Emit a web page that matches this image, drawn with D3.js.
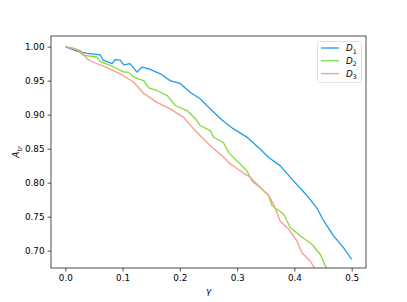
<!DOCTYPE html>
<html>
<head>
<meta charset="utf-8">
<script src="https://cdn.jsdelivr.net/npm/d3@7"></script>
<style>
  body { margin: 0; background: #fff; }
  svg { font-family: "DejaVu Sans", sans-serif; }
</style>
</head>
<body>
<div id="chart"></div>
<script>
const seriesNames = ["1", "2", "3"];
const seriesColors = ["#1f9be8", "#80dc3c", "#fb9a8c"];

const gammaD1 = [0, 0.020, 0.038, 0.061, 0.066, 0.0815, 0.087, 0.096, 0.102, 0.113, 0.125, 0.134, 0.148, 0.166, 0.183, 0.201, 0.218, 0.236, 0.253, 0.2735, 0.2937, 0.317, 0.340, 0.355, 0.375, 0.398, 0.422, 0.439, 0.451, 0.468, 0.486, 0.500];
const valD1 = [1.0, 0.9935, 0.990, 0.988, 0.980, 0.975, 0.981, 0.980, 0.973, 0.975, 0.9625, 0.970, 0.9665, 0.960, 0.950, 0.9455, 0.933, 0.923, 0.9085, 0.892, 0.879, 0.867, 0.8495, 0.837, 0.825, 0.803, 0.781, 0.763, 0.744, 0.722, 0.704, 0.687];

const gammaD2 = [0, 0.0175, 0.032, 0.055, 0.061, 0.0785, 0.090, 0.102, 0.110, 0.119, 0.137, 0.1455, 0.160, 0.178, 0.192, 0.2125, 0.227, 0.2356, 0.253, 0.259, 0.276, 0.285, 0.2997, 0.317, 0.326, 0.340, 0.355, 0.361, 0.381, 0.3927, 0.410, 0.4305, 0.445, 0.4567, 0.465];
const valD2 = [1.0, 0.997, 0.987, 0.9847, 0.978, 0.9724, 0.9675, 0.9625, 0.9625, 0.955, 0.950, 0.9395, 0.9355, 0.928, 0.9134, 0.906, 0.894, 0.884, 0.8765, 0.8667, 0.859, 0.8445, 0.832, 0.8176, 0.8023, 0.793, 0.781, 0.766, 0.754, 0.734, 0.722, 0.7094, 0.6947, 0.6726, 0.655];

const gammaD3 = [0, 0.026, 0.038, 0.049, 0.073, 0.096, 0.119, 0.137, 0.160, 0.183, 0.2065, 0.224, 0.2356, 0.253, 0.2735, 0.288, 0.3054, 0.323, 0.3374, 0.355, 0.3635, 0.3695, 0.375, 0.390, 0.4044, 0.413, 0.4276, 0.4363, 0.445];
const valD3 = [1.0, 0.9945, 0.982, 0.977, 0.969, 0.960, 0.948, 0.931, 0.918, 0.9085, 0.896, 0.879, 0.869, 0.8544, 0.8397, 0.8274, 0.8175, 0.8077, 0.7954, 0.781, 0.7684, 0.756, 0.7436, 0.7316, 0.7143, 0.697, 0.6848, 0.6726, 0.655];

const xTicks = [0.0, 0.1, 0.2, 0.3, 0.4, 0.5];
const yTicks = [0.70, 0.75, 0.80, 0.85, 0.90, 0.95, 1.00];

const width = 407, height = 302;
const margin = {top: 36, right: 41, bottom: 34, left: 51};

const svg = d3.select("#chart").append("svg")
    .attr("width", width)
    .attr("height", height);

const x = d3.scaleLinear().domain([-0.025, 0.525]).range([margin.left, width - margin.right]);
const y = d3.scaleLinear().domain([0.6745, 1.0156]).range([height - margin.bottom, margin.top]);

const series = [
    {name: seriesNames[0], g: gammaD1, v: valD1, color: seriesColors[0]},
    {name: seriesNames[1], g: gammaD2, v: valD2, color: seriesColors[1]},
    {name: seriesNames[2], g: gammaD3, v: valD3, color: seriesColors[2]}
];

svg.append("clipPath").attr("id", "clip")
  .append("rect")
    .attr("x", margin.left).attr("y", margin.top)
    .attr("width", width - margin.left - margin.right)
    .attr("height", height - margin.top - margin.bottom);

const line = d3.line()
    .x(d => x(d[0]))
    .y(d => y(d[1]));

svg.append("g").attr("clip-path", "url(#clip)")
  .selectAll("path")
  .data(series)
  .enter().append("path")
    .attr("fill", "none")
    .attr("stroke", d => d.color)
    .attr("stroke-width", 1.3)
    .attr("stroke-linejoin", "round")
    .attr("d", d => line(d.g.map((g, i) => [g, d.v[i]])));

// axes
const xAxis = svg.append("g")
    .attr("transform", `translate(0,${height - margin.bottom})`)
    .call(d3.axisBottom(x).tickValues(xTicks).tickFormat(d3.format(".1f")).tickSize(3.5).tickPadding(3));
const yAxis = svg.append("g")
    .attr("transform", `translate(${margin.left},0)`)
    .call(d3.axisLeft(y).tickValues(yTicks).tickFormat(d3.format(".2f")).tickSize(3.5).tickPadding(3));

[xAxis, yAxis].forEach(a => {
    a.select(".domain").remove();
    a.selectAll("text").attr("font-size", 8.8).attr("fill", "#000").attr("font-family", "DejaVu Sans");
    a.selectAll("line").attr("stroke", "#000").attr("stroke-width", 0.7);
});

// frame
svg.append("rect")
    .attr("x", margin.left).attr("y", margin.top)
    .attr("width", width - margin.left - margin.right)
    .attr("height", height - margin.top - margin.bottom)
    .attr("fill", "none")
    .attr("stroke", "#000")
    .attr("stroke-width", 0.7);

// axis labels
svg.append("text")
    .attr("x", (margin.left + width - margin.right) / 2)
    .attr("y", 294)
    .attr("text-anchor", "middle")
    .attr("font-size", 8.8)
    .attr("font-style", "italic")
    .text("γ");

const yl = svg.append("text")
    .attr("transform", `translate(19,${(margin.top + height - margin.bottom) / 2}) rotate(-90)`)
    .attr("text-anchor", "middle")
    .attr("font-size", 8.8)
    .attr("font-style", "italic");
yl.append("tspan").text("A");
yl.append("tspan").attr("font-size", 6.5).attr("dy", 2.5).text("tr");

// legend
const lg = svg.append("g");
lg.append("rect")
    .attr("x", 317.5).attr("y", 41.5)
    .attr("width", 44).attr("height", 41)
    .attr("rx", 2)
    .attr("fill", "#fff").attr("fill-opacity", 0.8)
    .attr("stroke", "#d8d8d8").attr("stroke-width", 0.8);

const item = lg.selectAll("g.item").data(series).enter().append("g")
    .attr("transform", (d, i) => `translate(0,${48 + i * 12.8})`);
item.append("line")
    .attr("x1", 321).attr("x2", 339)
    .attr("stroke", d => d.color).attr("stroke-width", 1.3);
const lt = item.append("text")
    .attr("x", 346).attr("y", 3)
    .attr("font-size", 8.8)
    .attr("font-style", "italic");
lt.append("tspan").text("D");
lt.append("tspan").attr("font-size", 6.3).attr("dy", 2.5).attr("font-style", "normal").text(d => d.name);
</script>
</body>
</html>
